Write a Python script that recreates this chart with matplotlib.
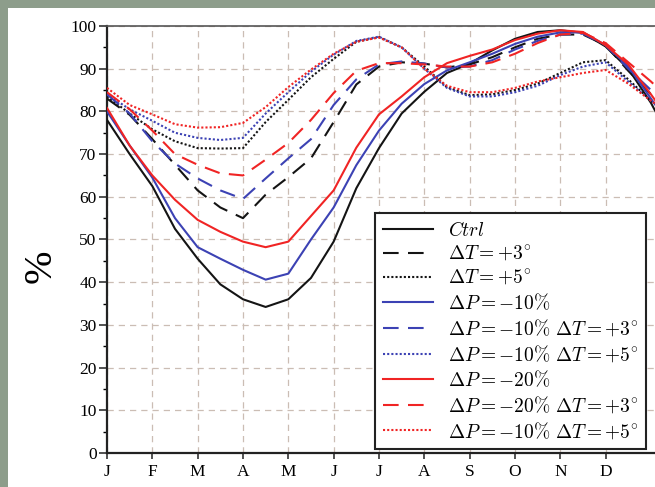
import matplotlib
matplotlib.use('Agg')
import matplotlib.pyplot as plt
from matplotlib.patches import Rectangle

plt.rcParams['mathtext.fontset'] = 'cm'
plt.rcParams['font.family'] = ['Liberation Serif', 'DejaVu Serif']

# month position (J = 0) of each sample
months = [0, 0.5, 1, 1.5, 2, 2.5, 3, 3.5, 4, 4.5, 5, 5.5, 6, 6.5, 7, 7.5,
          8, 8.5, 9, 9.5, 10, 10.5, 11, 11.5, 12, 12.2]
month_labels = ['J', 'F', 'M', 'A', 'M', 'J', 'J', 'A', 'S', 'O', 'N', 'D']

ctrl = [78, 70, 62.5, 52.5, 45.5, 39.5, 36, 34.2, 36, 41, 49.5, 62, 71.4, 79.5,
        84.6, 89, 91.2, 94.3, 97, 98.6, 99, 98.4, 95.2, 90, 82, 78]
dt3 = [83, 79.2, 73.5, 67.5, 61.5, 57.5, 55, 60.5, 64.6, 69, 77.5, 86.3, 90.5, 91.5,
       91.2, 90.3, 91, 92.7, 95, 97, 98, 98, 95.5, 89.5, 84, 82]
dt5 = [83.5, 79.5, 75.8, 73, 71.4, 71.3, 71.4, 77.5, 82.7, 88, 92.3, 96.3, 97.4, 95,
       90.5, 85.7, 83.8, 84, 85, 86.5, 89, 91.5, 92, 87.5, 82.5, 81]
dp10 = [80, 72, 64.5, 55, 48.2, 45.5, 42.9, 40.6, 42, 50, 57.5, 67.4, 75.5, 81.8,
        86.4, 89.6, 91.5, 93.5, 95.8, 97.5, 98.5, 98.5, 95.5, 90.5, 83, 80]
dp10_dt3 = [84, 79.5, 73, 67.8, 64.3, 61.5, 59.5, 64.3, 69, 73.5, 81.5, 87.5, 91, 91.7,
            91.2, 90.3, 90.5, 92, 94.5, 96.5, 98, 98.2, 95.5, 90, 85, 83]
dp10_dt5 = [84, 80.5, 77.8, 75, 73.8, 73.3, 73.8, 79.5, 84.5, 89.3, 93.3, 96.5, 97.5, 95,
            90, 85.5, 83.5, 83.5, 84.5, 86, 88.5, 90.5, 91.5, 87, 82.5, 81]
dp20 = [80.8, 72, 65, 59.3, 54.6, 51.8, 49.5, 48.2, 49.5, 55.5, 61.5, 71.5, 79.3, 83.5,
        88, 91.3, 93, 94.5, 96.7, 98.2, 99, 98.6, 95.5, 91, 84, 81]
dp20_dt3 = [84.5, 80.5, 75.5, 70, 67.5, 65.5, 65, 68.7, 72.6, 78, 84.3, 89.5, 91.3, 91.3,
            91, 90.5, 90.5, 91.5, 93.5, 96, 98, 98.4, 96, 91.5, 87, 85]
dp20_dt5 = [85.5, 81.5, 79.3, 77, 76.2, 76.3, 77.3, 81, 85.7, 89.8, 93.5, 96.3, 97.3, 95,
            90, 86, 84.5, 84.5, 85.5, 87, 88, 89, 89.7, 86.5, 82.5, 81]

black = '#141414'
blue = '#3c42b4'
red = '#f02424'
dash = (0, (7.5, 4.5))
dot = (0, (1, 1))

series = [
    (ctrl, black, '-', r'$Ctrl$'),
    (dt3, black, dash, r'$\Delta T = +3^{\circ}$'),
    (dt5, black, dot, r'$\Delta T = +5^{\circ}$'),
    (dp10, blue, '-', r'$\Delta P = -10\%$'),
    (dp10_dt3, blue, dash, r'$\Delta P = -10\%\ \Delta T = +3^{\circ}$'),
    (dp10_dt5, blue, dot, r'$\Delta P = -10\%\ \Delta T = +5^{\circ}$'),
    (dp20, red, '-', r'$\Delta P = -20\%$'),
    (dp20_dt3, red, dash, r'$\Delta P = -20\%\ \Delta T = +3^{\circ}$'),
    (dp20_dt5, red, dot, r'$\Delta P = -10\%\ \Delta T = +5^{\circ}$'),
]

W, H = 655, 487
fig = plt.figure(figsize=(W / 100, H / 100), dpi=100)
fig.patch.set_facecolor('#8d9d8b')
fig.patches.append(Rectangle((8 / W, 0), 1, 1 - 8 / H, transform=fig.transFigure,
                             facecolor='white', edgecolor='none', zorder=-10))

ax = fig.add_axes([107 / W, 1 - 453 / H, (660 - 107) / W, (453 - 26) / H])
ax.set_facecolor('white')

for vals, c, ls, lab in series:
    ax.plot(months, vals, color=c, linestyle=ls, lw=1.5, label=lab, zorder=3)

ax.set_xlim(0, 12.2)
ax.set_ylim(0, 100)
ax.set_xticks(range(12))
ax.set_xticklabels(month_labels)
ax.set_yticks(range(0, 101, 10))
ax.set_yticks(range(5, 100, 10), minor=True)
ax.tick_params(axis='both', labelsize=12.5, color='#333333')
ax.tick_params(axis='y', which='major', direction='out', length=6, width=1.2, pad=1.5)
ax.tick_params(axis='y', which='minor', direction='out', length=3, width=1)
ax.tick_params(axis='x', direction='out', length=4.5, width=1.2, pad=3.5)

ax.grid(True, color='#cbbdb4', linestyle=(0, (5, 4)), lw=0.9, zorder=1)
for s in ['left', 'bottom']:
    ax.spines[s].set_linewidth(1.6)
    ax.spines[s].set_color('#222222')
ax.spines['top'].set_linewidth(1.2)
ax.spines['top'].set_color('#555555')
ax.spines['right'].set_visible(False)

fig.text(41 / W, 1 - 266 / H, '%', rotation=90, fontsize=29,
         ha='center', va='center')

leg = ax.legend(loc='lower left', bbox_to_anchor=(375 / W, 1 - 449 / H),
                bbox_transform=fig.transFigure, borderaxespad=0,
                fontsize=14, handlelength=2.6, handletextpad=0.75,
                labelspacing=0.25, borderpad=0.4, fancybox=False,
                framealpha=1, edgecolor='#222222')
leg.get_frame().set_linewidth(1.5)

fig.savefig('out.png', dpi=100, facecolor=fig.get_facecolor())
